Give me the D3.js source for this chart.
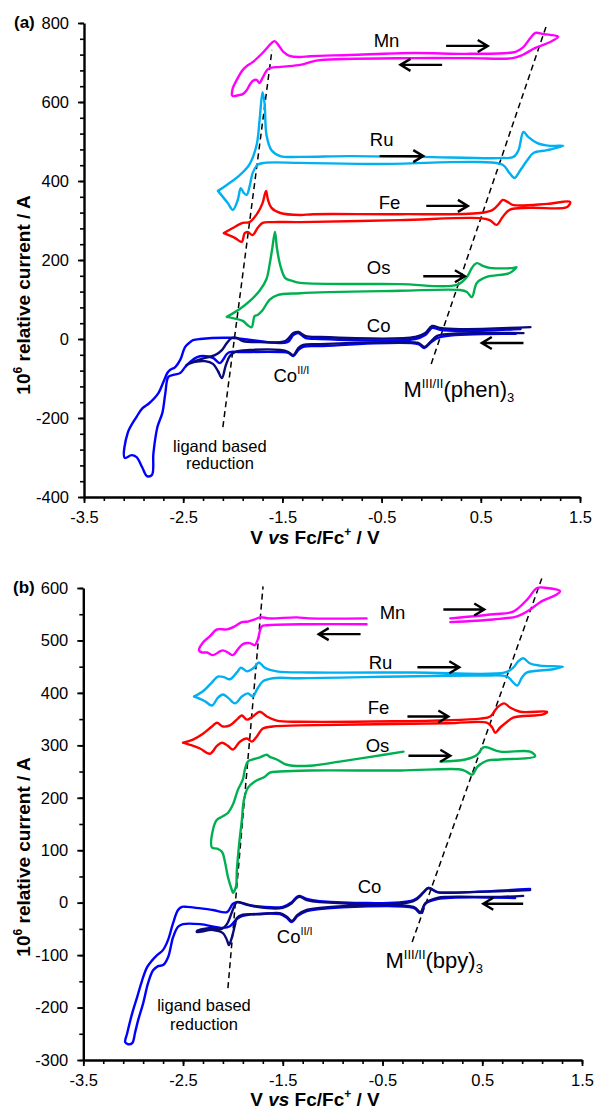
<!DOCTYPE html>
<html><head><meta charset="utf-8">
<script src="https://cdn.jsdelivr.net/npm/d3@7"></script>
<style>
body{margin:0;background:#fff}
svg{display:block}
text{font-family:"Liberation Sans",Arial,Helvetica,sans-serif;fill:#000}
</style>
</head><body>
<svg id="chart" width="595" height="1110"></svg>
<script>
// ---------------- Data: panel (a) M(phen)3 ----------------
const xTicks = [-3.5, -2.5, -1.5, -0.5, 0.5, 1.5];
const yTicksA = [-400, -200, 0, 200, 400, 600, 800];
const yTicksB = [-300, -200, -100, 0, 100, 200, 300, 400, 500, 600];

const mnA = [[-2.01,618],[-2.00,635],[-1.96,656],[-1.90,681],[-1.86,691],[-1.80,701],[-1.70,724],[-1.61,749],[-1.58,754],[-1.54,744],[-1.49,727],[-1.42,716],[-1.32,714],[-1.22,716],[-0.82,719],[-0.18,724],[0.39,722],[0.85,727],[0.92,737],[1.00,762],[1.05,775],[1.13,772],[1.20,770],[1.28,765],
  [1.20,752],[1.05,737],[0.92,719],[0.82,711],[0.39,711],[-0.18,711],[-1.12,706],[-1.22,701],[-1.32,694],[-1.52,689],[-1.64,684],[-1.70,661],[-1.73,648],[-1.76,656],[-1.80,653],[-1.83,643],[-1.86,630],[-1.90,620],[-1.93,618],[-2.00,615],[-2.01,618]];

const ruA = [[-2.15,375],[-2.06,390],[-1.93,415],[-1.83,443],[-1.76,491],[-1.73,554],[-1.70,625],[-1.68,597],[-1.66,516],[-1.61,478],[-1.52,463],[-1.32,461],[-0.82,463],[-0.11,461],[0.69,458],[0.83,461],[0.88,478],[0.93,524],[0.98,511],[1.07,496],[1.20,489],[1.33,489],
  [1.17,478],[1.03,471],[0.97,453],[0.90,428],[0.84,408],[0.79,420],[0.72,441],[0.49,448],[-0.52,443],[-1.32,446],[-1.68,446],[-1.75,441],[-1.80,420],[-1.83,387],[-1.86,365],[-1.89,370],[-1.92,382],[-1.95,352],[-2.00,327],[-2.05,344],[-2.15,375]];

const feA = [[-2.09,268],[-2.00,281],[-1.90,294],[-1.83,296],[-1.75,319],[-1.70,344],[-1.665,375],[-1.645,352],[-1.61,332],[-1.52,319],[-1.32,314],[-1.19,316],[-0.32,316],[0.49,319],[0.62,327],[0.69,344],[0.72,352],[0.77,347],[0.83,339],[1.17,342],[1.40,347],
  [1.37,334],[1.00,332],[0.79,327],[0.72,309],[0.66,289],[0.59,301],[0.49,306],[-0.32,301],[-1.32,296],[-1.60,296],[-1.70,294],[-1.75,281],[-1.80,263],[-1.85,271],[-1.88,268],[-1.91,246],[-1.98,256],[-2.09,268]];

const osA = [[-2.06,56],[-1.93,76],[-1.83,96],[-1.73,122],[-1.66,152],[-1.63,187],[-1.60,233],[-1.575,271],[-1.555,230],[-1.52,185],[-1.47,154],[-1.40,147],[-1.32,142],[-0.32,139],[0.26,137],[0.36,157],[0.41,180],[0.46,192],[0.52,185],[0.59,180],[0.83,180],[0.86,182],
  [0.79,167],[0.56,157],[0.46,142],[0.41,106],[0.36,119],[0.29,124],[-0.32,122],[-1.32,116],[-1.55,111],[-1.63,99],[-1.70,73],[-1.75,61],[-1.78,58],[-1.81,30],[-1.85,35],[-1.90,46],[-2.00,53],[-2.06,56]];

const coBlueA = [[0.85,13],[0.09,5],[-0.01,-10],[-0.07,-23],[-0.13,-13],[-1.12,-18],[-1.29,-20],[-1.34,-28],[-1.39,-43],[-1.44,-35],[-1.52,-33],[-1.93,-33],[-2.03,-33],[-2.06,-38],[-2.10,-53],[-2.13,-61],[-2.20,-48],[-2.30,-43],[-2.36,-46],[-2.43,-58],[-2.48,-71],[-2.53,-86],[-2.60,-91],[-2.65,-96],[-2.68,-137],[-2.71,-187],[-2.76,-223],[-2.80,-289],[-2.815,-344],[-2.865,-347],[-2.915,-324],[-2.97,-299],[-3.02,-294],[-3.09,-301],
  [-3.06,-238],[-2.97,-197],[-2.91,-175],[-2.84,-162],[-2.75,-137],[-2.70,-109],[-2.66,-86],[-2.63,-78],[-2.58,-71],[-2.53,-53],[-2.48,-20],[-2.43,-8],[-2.40,-3],[-2.33,0],[-2.03,3],[-1.90,0],[-1.45,-8],[-1.39,10],[-1.34,15],[-1.27,3],[-1.12,0],[-0.16,0],[-0.06,10],[0.01,28],[0.09,23],[0.29,20],[0.90,25]];

const coNavyA = [[0.93,15],[0.19,13],[0.06,8],[-0.01,-8],[-0.07,-20],[-0.13,-10],[-0.32,-8],[-1.12,-13],[-1.29,-15],[-1.34,-23],[-1.39,-41],[-1.44,-33],[-1.52,-28],[-1.83,-28],[-1.98,-33],[-2.03,-43],[-2.07,-66],[-2.11,-99],[-2.15,-81],[-2.20,-63],[-2.28,-56],[-2.38,-58],[-2.47,-66],
  [-2.38,-56],[-2.28,-48],[-2.18,-41],[-2.11,-28],[-2.06,-10],[-2.01,3],[-1.96,3],[-1.90,-5],[-1.73,-8],[-1.47,-5],[-1.39,15],[-1.34,18],[-1.27,8],[-1.12,5],[-0.16,5],[-0.06,15],[0.01,33],[0.09,28],[0.29,25],[1.00,30]];

const ligandLineA = [[-2.10,-223],[-1.605,732]];
const metalLineA = [[0.00,-63],[1.157,790]];

// ---------------- Data: panel (b) M(bpy)3 ----------------
const mnB1 = [[-0.66,542],[-1.23,542],[-1.36,544],[-1.63,542],[-1.73,544],[-1.78,540],[-1.85,536],[-1.91,535],[-1.98,527],[-2.06,521],[-2.16,521],[-2.23,508],[-2.30,496],[-2.34,481],
  [-2.31,477],[-2.26,477],[-2.20,472],[-2.13,479],[-2.10,481],[-2.05,477],[-2.00,472],[-1.95,483],[-1.90,493],[-1.83,495],[-1.78,491],[-1.75,502],[-1.71,527],[-1.66,529],[-1.23,531],[-0.66,531]];
const mnB2 = [[0.18,542],[0.61,550],[0.81,555],[0.95,578],[1.05,600],[1.15,600],[1.28,594],
  [1.25,588],[1.08,573],[0.98,559],[0.85,546],[0.61,540],[0.18,535]];

const ruB = [[-2.39,393],[-2.30,403],[-2.21,420],[-2.15,431],[-2.09,430],[-2.03,426],[-1.96,439],[-1.92,448],[-1.86,441],[-1.81,445],[-1.78,450],[-1.74,458],[-1.68,448],[-1.56,441],[-1.23,439],[-0.19,439],[0.73,439],[0.81,448],[0.86,460],[0.91,466],[0.98,456],[1.08,452],[1.31,450],
  [1.21,445],[0.95,439],[0.90,430],[0.85,414],[0.80,422],[0.75,431],[0.48,433],[-1.33,428],[-1.60,428],[-1.70,422],[-1.76,406],[-1.80,393],[-1.85,399],[-1.91,393],[-1.98,380],[-2.05,391],[-2.10,397],[-2.15,391],[-2.21,376],[-2.28,384],[-2.36,391],[-2.39,393]];

const feB = [[-2.50,305],[-2.40,311],[-2.30,322],[-2.21,336],[-2.16,343],[-2.10,336],[-2.03,338],[-1.95,351],[-1.91,357],[-1.86,349],[-1.80,355],[-1.73,364],[-1.66,355],[-1.56,347],[-1.33,345],[0.48,351],[0.58,355],[0.65,372],[0.72,380],[0.78,372],[0.88,364],[1.15,364],
  [1.11,359],[0.81,353],[0.75,345],[0.68,334],[0.63,324],[0.60,334],[0.55,343],[0.15,342],[-1.33,338],[-1.60,336],[-1.70,332],[-1.76,317],[-1.81,307],[-1.86,313],[-1.93,307],[-2.00,292],[-2.05,299],[-2.11,305],[-2.16,299],[-2.23,284],[-2.33,294],[-2.43,301],[-2.50,305]];

const osB1 = [[-0.29,288],[-0.62,278],[-0.93,269],[-1.23,261],[-1.46,263],[-1.56,273],[-1.63,278],[-1.66,282],[-1.73,277],[-1.80,273],[-1.85,269],[-1.88,254],[-1.90,235],[-1.95,215],[-2.00,187],[-2.05,171],[-2.11,164],[-2.16,158],[-2.20,139],[-2.21,105],
  [-2.16,103],[-2.11,97],[-2.08,78],[-2.05,49],[-2.01,24],[-2.00,19],[-1.97,30],[-1.96,63],[-1.94,107],[-1.91,158],[-1.89,196],[-1.85,219],[-1.78,231],[-1.68,240],[-1.63,248],[-1.53,250],[-1.23,252],[-0.32,252],[0.28,254],[0.34,250],[0.40,244],[0.45,259],[0.55,271],[0.68,273],[1.03,279],
  [0.98,288],[0.68,288],[0.55,296],[0.51,296],[0.45,282],[0.33,273],[0.08,269]];

const coBlueB = [[0.83,9],[0.05,7],[-0.07,-2],[-0.12,-20],[-0.19,-10],[-1.13,-12],[-1.26,-16],[-1.35,-25],[-1.41,-37],[-1.46,-29],[-1.53,-22],[-1.90,-25],[-1.96,-31],[-2.03,-45],[-2.10,-48],[-2.33,-41],[-2.50,-41],[-2.55,-46],[-2.60,-66],[-2.65,-104],[-2.70,-119],[-2.75,-121],[-2.80,-129],[-2.85,-153],[-2.90,-192],[-2.95,-224],[-2.98,-247],[-3.01,-268],[-3.05,-270],[-3.08,-266],
  [-3.06,-249],[-3.01,-211],[-2.96,-180],[-2.91,-148],[-2.86,-123],[-2.81,-110],[-2.76,-100],[-2.70,-90],[-2.65,-71],[-2.60,-39],[-2.55,-14],[-2.51,-8],[-2.46,-8],[-2.20,-14],[-2.06,-18],[-2.00,-2],[-1.95,1],[-1.86,-4],[-1.50,-8],[-1.41,1],[-1.36,11],[-1.33,13],[-1.26,7],[-1.13,3],[-0.19,5],[-0.09,20],[-0.04,28],[0.05,20],[0.15,19],[0.98,26]];

const coNavyB = [[0.91,13],[0.68,11],[0.15,11],[0.05,9],[-0.07,-1],[-0.12,-18],[-0.19,-8],[-1.13,-10],[-1.26,-14],[-1.35,-23],[-1.41,-35],[-1.46,-27],[-1.53,-20],[-1.73,-22],[-1.90,-23],[-1.96,-29],[-1.98,-43],[-2.01,-66],[-2.04,-81],[-2.06,-71],[-2.10,-58],[-2.20,-52],[-2.36,-56],
  [-2.36,-54],[-2.20,-48],[-2.11,-50],[-2.06,-41],[-2.01,-18],[-1.98,-4],[-1.96,1],[-1.90,-1],[-1.76,-8],[-1.50,-10],[-1.41,-1],[-1.36,9],[-1.33,11],[-1.26,5],[-1.13,1],[-0.19,3],[-0.09,19],[-0.04,28],[0.05,20],[0.15,19],[0.98,24]];

const ligandLineB = [[-2.05,-163],[-1.698,603]];
const metalLineB = [[-0.203,-75],[1.10,620]];

// annotation anchors (data units)
const namesA = [["Mn",-0.45,739],["Ru",-0.50,489],["Fe",-0.42,329],["Os",-0.53,165],["Co",-0.53,18]];
const arrowsA = [[0.15,0.57,742],[0.11,-0.31,694],[-0.52,-0.08,463],[-0.05,0.37,337],[-0.08,0.34,159],[0.93,0.51,-10]];
const namesB = [["Mn",-0.40,540],["Ru",-0.52,446],["Fe",-0.54,359],["Os",-0.55,288],["Co",-0.63,19]];
const arrowsB = [[0.11,0.52,559],[-0.72,-1.14,512],[-0.15,0.27,449],[-0.25,0.16,355],[-0.24,0.18,280],[0.91,0.51,-2]];

const COLORS = {Mn:"#FF00FF", Ru:"#00B0F0", Fe:"#FF0000", Os:"#00B050", CoBlue:"#0000FF", CoNavy:"#0A0A78"};

const svg = d3.select("#chart");

function panel(cfg){
  const x = d3.scaleLinear().domain([-3.5,1.5]).range(cfg.xr);
  const y = d3.scaleLinear().domain(cfg.yd).range(cfg.yr);
  const g = svg.append("g");

  // minor ticks
  const xMinor = d3.range(-3.5, 1.5001, 0.2);
  g.append("g").attr("transform",`translate(0,${cfg.yr[0]})`)
    .call(d3.axisBottom(x).tickValues(xMinor).tickSize(4).tickFormat(""))
    .call(s=>{s.select(".domain").remove(); s.selectAll("line").attr("stroke-width",1.6);});
  const yMinor = d3.range(cfg.yd[0], cfg.yd[1]+0.001, cfg.minorY);
  g.append("g").attr("transform",`translate(${cfg.xr[0]},0)`)
    .call(d3.axisLeft(y).tickValues(yMinor).tickSize(4).tickFormat(""))
    .call(s=>{s.select(".domain").remove(); s.selectAll("line").attr("stroke-width",1.6);});

  // major axes
  const xa = g.append("g").attr("transform",`translate(0,${cfg.yr[0]})`)
    .call(d3.axisBottom(x).tickValues(xTicks).tickSize(6).tickPadding(8).tickSizeOuter(0).tickFormat(d3.format(".1f")));
  const ya = g.append("g").attr("transform",`translate(${cfg.xr[0]},0)`)
    .call(d3.axisLeft(y).tickValues(cfg.yTicks).tickSize(6).tickPadding(8).tickSizeOuter(0).tickFormat(d=>d));
  [xa,ya].forEach(a=>{
    a.select(".domain").attr("stroke","#000").attr("stroke-width",2.4);
    a.selectAll(".tick line").attr("stroke","#000").attr("stroke-width",1.8);
    a.selectAll("text").attr("font-size",16.5).attr("font-family",'"Liberation Sans",Arial,sans-serif').attr("fill","#000");
  });
  xa.selectAll("text").text(d=>d3.format(".1f")(d).replace("−","-"));
  ya.selectAll("text").attr("dx",-1);

  // dashed guide lines
  const line = d3.line().x(d=>x(d[0])).y(d=>y(d[1]));
  [cfg.ligand, cfg.metal].forEach(L=>{
    g.append("path").attr("d",line(L)).attr("fill","none").attr("stroke","#000")
      .attr("stroke-width",1.5).attr("stroke-dasharray","6,4");
  });

  // CV curves
  const curve = d3.line().x(d=>x(d[0])).y(d=>y(d[1])).curve(d3.curveCatmullRom.alpha(0.5));
  cfg.curves.forEach(c=>{
    g.append("path").attr("d",curve(c.data)).attr("fill","none")
      .attr("stroke",c.color).attr("stroke-width",2.4).attr("stroke-linejoin","round").attr("stroke-linecap","round");
  });

  // metal names
  cfg.names.forEach(n=>{
    g.append("text").attr("x",x(n[1])).attr("y",y(n[2])).attr("text-anchor","middle")
      .attr("font-size",18.5).text(n[0]);
  });
  // arrows
  cfg.arrows.forEach(a=>{
    const x0=x(a[0]), x1=x(a[1]), yy=y(a[2]);
    const dir = x1>x0?1:-1;
    g.append("path").attr("d",`M${x0},${yy}L${x1},${yy}M${x1-dir*10},${yy-6}L${x1},${yy}L${x1-dir*10},${yy+6}`)
      .attr("fill","none").attr("stroke","#000").attr("stroke-width",2.4).attr("stroke-linejoin","miter");
  });

  // Co(II/I)
  const co = g.append("text").attr("x",x(cfg.coLab[0])).attr("y",y(cfg.coLab[1])).attr("font-size",18.5);
  co.append("tspan").text("Co");
  co.append("tspan").attr("font-size",11).attr("dy",-8).text("II/I");

  // M(III/II)(L)3
  const m = g.append("text").attr("x",x(cfg.mLab[0])).attr("y",y(cfg.mLab[1])).attr("font-size",22);
  m.append("tspan").text("M");
  m.append("tspan").attr("font-size",13).attr("dy",-9).text("III/II");
  m.append("tspan").attr("dy",9).text("("+cfg.lig+")");
  m.append("tspan").attr("font-size",13).attr("dy",5).text("3");

  // ligand based reduction
  g.append("text").attr("x",x(cfg.ligLab[0])).attr("y",y(cfg.ligLab[1])).attr("text-anchor","middle").attr("font-size",16.5).text("ligand based");
  g.append("text").attr("x",x(cfg.ligLab[0])).attr("y",y(cfg.ligLab[2])).attr("text-anchor","middle").attr("font-size",16.5).text("reduction");

  // panel label
  svg.append("text").attr("x",cfg.tag[0]).attr("y",cfg.tag[1]).attr("font-size",17).attr("font-weight","bold").text(cfg.tagText);

  // axis titles
  const yt = svg.append("text").attr("transform",`translate(30,${cfg.yTitleY}) rotate(-90)`)
    .attr("text-anchor","middle").attr("font-size",19).attr("font-weight","bold");
  yt.append("tspan").text("10");
  yt.append("tspan").attr("font-size",12).attr("dy",-8).text("6");
  yt.append("tspan").attr("dy",8).text(" relative current / A");

  const xt = svg.append("text").attr("x",cfg.xTitle[0]).attr("y",cfg.xTitle[1])
    .attr("text-anchor","middle").attr("font-size",19).attr("font-weight","bold");
  xt.append("tspan").text("V ");
  xt.append("tspan").attr("font-style","italic").text("vs");
  xt.append("tspan").text(" Fc/Fc");
  xt.append("tspan").attr("font-size",12).attr("dy",-8).text("+");
  xt.append("tspan").attr("dy",8).text(" / V");
}

panel({
  xr:[84,580], yd:[-400,800], yr:[497,23], yTicks:yTicksA, minorY:40,
  ligand:ligandLineA, metal:metalLineA,
  curves:[{data:mnA,color:COLORS.Mn},{data:ruA,color:COLORS.Ru},{data:feA,color:COLORS.Fe},{data:osA,color:COLORS.Os},{data:coBlueA,color:COLORS.CoBlue},{data:coNavyA,color:COLORS.CoNavy}],
  names:namesA, arrows:arrowsA,
  coLab:[-1.59,-109], mLab:[-0.28,-147], lig:"phen", ligLab:[-2.13,-286,-329],
  tag:[14,28], tagText:"(a)", yTitleY:295, xTitle:[315,544]
});
panel({
  xr:[83.3,582], yd:[-300,600], yr:[1060,588], yTicks:yTicksB, minorY:50,
  ligand:ligandLineB, metal:metalLineB,
  curves:[{data:mnB1,color:COLORS.Mn},{data:mnB2,color:COLORS.Mn},{data:ruB,color:COLORS.Ru},{data:feB,color:COLORS.Fe},{data:osB1,color:COLORS.Os},{data:coBlueB,color:COLORS.CoBlue},{data:coNavyB,color:COLORS.CoNavy}],
  names:namesB, arrows:arrowsB,
  coLab:[-1.56,-77], mLab:[-0.47,-125], lig:"bpy", ligLab:[-2.29,-207,-242],
  tag:[13,593], tagText:"(b)", yTitleY:857, xTitle:[315,1106]
});
</script>
</body></html>
